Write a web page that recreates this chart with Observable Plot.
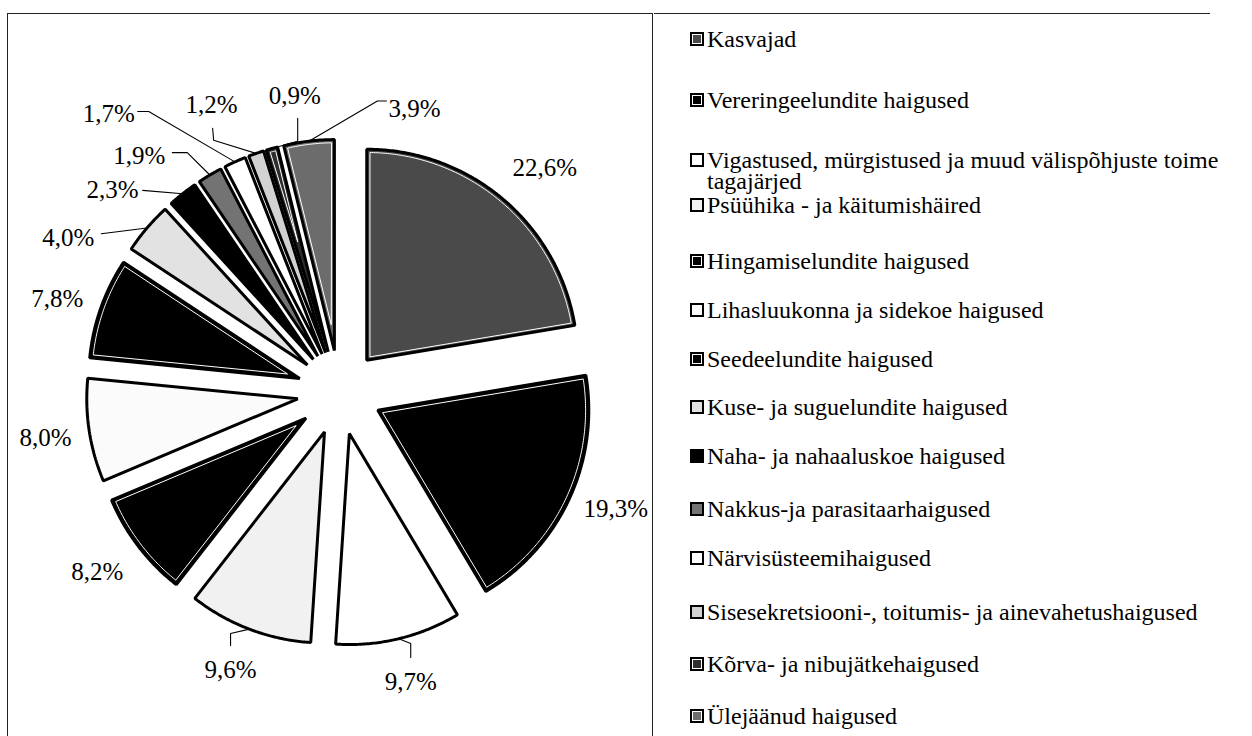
<!DOCTYPE html>
<html><head><meta charset="utf-8">
<script src="https://cdn.jsdelivr.net/npm/d3@7"></script>
<script src="https://cdn.jsdelivr.net/npm/@observablehq/plot@0.6"></script>
<style>
html,body{margin:0;padding:0;background:#fff;}
body{width:1252px;height:736px;position:relative;overflow:hidden;font-family:"Liberation Serif","Times New Roman",serif;}
#frame{position:absolute;left:7px;top:13px;width:646px;height:760px;border-left:1.5px solid #222;border-top:1.5px solid #222;border-right:1.5px solid #222;box-sizing:border-box;}
#legendTop{position:absolute;left:654px;top:13px;width:556px;height:0;border-top:1.5px solid #222;}
#chart{position:absolute;left:9px;top:14px;}
.item{position:absolute;left:690px;font-size:24px;line-height:21px;color:#000;display:flex;align-items:flex-start;}
.sw{flex:none;width:14px;height:14px;box-sizing:border-box;border:2px solid #000;margin-top:3.5px;margin-right:3px;}
.tx{max-width:530px;}
</style>
</head><body>
<div id="frame"></div>
<div id="legendTop"></div>
<div id="chart"></div>
<div id="legend"></div>
<script>
// ---- data ----
const categories = [
  "Kasvajad",
  "Vereringeelundite haigused",
  "Vigastused, mürgistused ja muud välispõhjuste toime tagajärjed",
  "Psüühika - ja käitumishäired",
  "Hingamiselundite haigused",
  "Lihasluukonna ja sidekoe haigused",
  "Seedeelundite haigused",
  "Kuse- ja suguelundite haigused",
  "Naha- ja nahaaluskoe haigused",
  "Nakkus-ja parasitaarhaigused",
  "Närvisüsteemihaigused",
  "Sisesekretsiooni-, toitumis- ja ainevahetushaigused",
  "Kõrva- ja nibujätkehaigused",
  "Ülejäänud haigused"
];
const shares = [22.6, 19.3, 9.7, 9.6, 8.2, 8.0, 7.8, 4.0, 2.3, 1.9, 1.7, 1.2, 0.9, 3.9];

// ---- styles ----
const fills = ["#4a4a4a","#000000","#ffffff","#f1f1f1","#000000","#fbfbfb","#000000","#e2e2e2","#000000","#737373","#ffffff","#d2d2d2","#2e2e2e","#6c6c6c"];
const rings = [true,true,false,false,true,false,true,false,false,false,false,false,true,true];

// ---- layout ----
const PX = 211;            // pixels per pie radius
const explode = 0.2;       // explosion in radii
const W = 645, H = 722, cx = 330, cy = 378;
const labelLayout = [[42.5,1.44],[112.8,1.42],[166.2,1.415],[201.4,1.415],[233.4,1.43],[261.3,1.41],[288.4,1.41],[299.7,1.48],[311.7,1.44],[319.8,1.47],[320.4,1.716],[336,1.49],[351.4,1.42],[14.8,1.39]];
const leaderLayout = {2:[[0,-25],[0,-39]],3:[[0,-25],[0,-37]],7:[[33,-4]],8:[[30,0]],9:[[33,-3],[48,-3]],10:[[29,-2],[40,-2]],11:[[1,23],[2,35]],12:[[3,22],[3,45]],13:[[-28,-8],[-37,-8]]};
const legendRows = [39,100,160,205,261,310,359,407,456,509,558,612,664,716];

// ---- geometry ----
const arcs = d3.pie().sort(null).value(d => d)(shares);
const slicePts = [], ringPts = [], leaderPts = [], labels = [];
arcs.forEach((p, i) => {
  const a0 = p.startAngle, a1 = p.endAngle, mid = (a0 + a1) / 2;
  const ax = explode * Math.sin(mid), ay = explode * Math.cos(mid);
  const n = Math.max(3, Math.ceil((a1 - a0) / (Math.PI / 360)));
  slicePts.push({id: i, x: ax, y: ay, f: fills[i]});
  for (let k = 0; k <= n; k++) {
    const a = a0 + (a1 - a0) * k / n;
    slicePts.push({id: i, x: ax + Math.sin(a), y: ay + Math.cos(a), f: fills[i]});
  }
  if (rings[i]) {
    const d = 3.2 / PX, half = (a1 - a0) / 2;
    const off = d / Math.sin(half);
    const bx = ax + off * Math.sin(mid), by = ay + off * Math.cos(mid);
    const r = 1 - d, da = Math.asin(d / r);
    ringPts.push({id: i, x: bx, y: by});
    for (let k = 0; k <= n; k++) {
      const a = a0 + da + (a1 - a0 - 2 * da) * k / n;
      ringPts.push({id: i, x: ax + r * Math.sin(a), y: ay + r * Math.cos(a)});
    }
  }
  const [deg, rr] = labelLayout[i];
  const lx = rr * Math.sin(deg * Math.PI / 180), ly = rr * Math.cos(deg * Math.PI / 180);
  labels.push({x: lx, y: ly, text: shares[i].toFixed(1).replace(".", ",") + "%"});
  if (leaderLayout[i]) {
    leaderLayout[i].forEach(([ox, oy]) => leaderPts.push({id: i, x: lx + ox / PX, y: ly - oy / PX}));
    leaderPts.push({id: i, x: ax + Math.sin(mid), y: ay + Math.cos(mid)});
  }
});

const chart = Plot.plot({
  width: W, height: H, margin: 0,
  x: {domain: [-cx / PX, (W - cx) / PX], axis: null},
  y: {domain: [-(H - cy) / PX, cy / PX], axis: null},
  color: {type: "identity"},
  style: {background: "transparent", fontFamily: "Liberation Serif"},
  marks: [
    Plot.line(slicePts, {x: "x", y: "y", z: "id", fill: "f", stroke: "#000", strokeWidth: 3, curve: "linear-closed", strokeLinejoin: "miter"}),
    Plot.line(ringPts, {x: "x", y: "y", z: "id", fill: "none", stroke: "#fff", strokeWidth: 1, curve: "linear-closed"}),
    Plot.line(leaderPts, {x: "x", y: "y", z: "id", stroke: "#000", strokeWidth: 1.1}),
    Plot.text(labels, {x: "x", y: "y", text: "text", fontSize: 25, fontFamily: "Liberation Serif", fill: "#000"})
  ]
});
document.getElementById("chart").appendChild(chart);

// ---- legend ----
const legend = document.getElementById("legend");
categories.forEach((c, i) => {
  const it = document.createElement("div");
  it.className = "item";
  it.style.top = (legendRows[i] - 10.5) + "px";
  const sw = document.createElement("div");
  sw.className = "sw";
  sw.style.background = fills[i];
  if (rings[i]) sw.style.boxShadow = "inset 0 0 0 1px #fff";
  const tx = document.createElement("div");
  tx.className = "tx";
  tx.textContent = c;
  it.appendChild(sw); it.appendChild(tx);
  legend.appendChild(it);
});
</script>
</body></html>
